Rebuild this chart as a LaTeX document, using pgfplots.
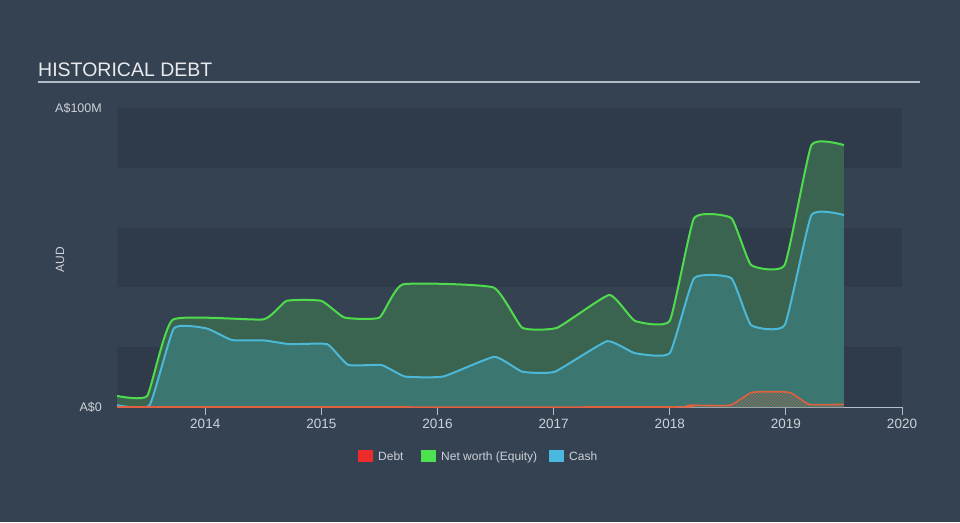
\documentclass[border=0pt]{standalone}
\usepackage{pgfplots}
\pgfplotsset{compat=1.18}
\usepackage{fontspec}
\setmainfont{Liberation Sans}
\usetikzlibrary{patterns}
\definecolor{bg}{HTML}{354252}
\definecolor{band}{HTML}{2F3B4B}
\definecolor{eqfill}{HTML}{3B6450}
\definecolor{cashfill}{HTML}{3B7670}
\definecolor{eqline}{HTML}{4FDC4C}
\definecolor{cashline}{HTML}{4BB8D8}
\definecolor{debtline}{HTML}{E0603F}
\definecolor{axisgray}{HTML}{B4BCC6}
\definecolor{ticktext}{HTML}{CDD2D9}
\definecolor{titletext}{HTML}{E8EBEE}
\definecolor{legred}{HTML}{EC2B2B}
\definecolor{leggreen}{HTML}{4FE04F}
\definecolor{legblue}{HTML}{4AB8E0}
\pgfplotstableread{
x y
2013.24 3.7
2013.50 3.7
2013.72 29.2
2014.50 29.3
2014.70 35.5
2015.00 35.5
2015.20 29.9
2015.50 29.9
2015.70 41.0
2016.48 40.0
2016.73 26.5
2017.03 26.5
2017.48 37.5
2017.70 28.8
2018.00 28.8
2018.21 63.2
2018.53 63.2
2018.70 47.5
2018.99 47.5
2019.22 87.6
2019.50 87.6
}\equity
\pgfplotstableread{
x y
2013.24 0.6
2013.52 0.6
2013.73 26.3
2014.01 26.3
2014.23 22.4
2014.50 22.3
2014.73 21.0
2015.05 21.0
2015.23 14.1
2015.52 14.0
2015.72 10.2
2016.05 10.2
2016.49 16.8
2016.73 11.8
2017.01 11.8
2017.46 22.0
2017.70 18.0
2018.00 18.0
2018.21 43.1
2018.53 43.1
2018.70 27.4
2018.99 27.4
2019.22 64.2
2019.50 64.2
}\cash
\pgfplotstableread{
x y
2013.24 0
2018.00 0
2018.17 0.6
2018.52 0.6
2018.71 4.9
2019.03 4.9
2019.20 0.9
2019.50 0.9
}\debt
\begin{document}
\begin{tikzpicture}[x=1pt,y=1pt]
\fill[bg] (0,0) rectangle (960,522);
% title
\node[anchor=base west, inner sep=0, text=titletext, font=\fontsize{19.5}{22}\selectfont] at (38,445) {HISTORICAL DEBT};
\draw[axisgray, line width=1.5pt] (38,440) -- (920,440);
% y labels
\node[anchor=east, inner sep=0, text=ticktext, font=\fontsize{12.5}{14}\selectfont] at (102,414) {A\$100M};
\node[anchor=east, inner sep=0, text=ticktext, font=\fontsize{12.5}{14}\selectfont] at (102,115) {A\$0};
\node[rotate=90, inner sep=0, text=ticktext, font=\fontsize{12}{14}\selectfont] at (60,262) {AUD};
\begin{axis}[
  at={(117pt,115pt)}, anchor=south west,
  scale only axis, width=785pt, height=299pt,
  xmin=2013.24, xmax=2020, ymin=0, ymax=100,
  axis y line=none, axis x line*=bottom,
  x axis line style={axisgray, line width=1.2pt, -},
  xtick={2014,2015,2016,2017,2018,2019,2020},
  xticklabels={2014,2015,2016,2017,2018,2019,2020},
  tick align=outside, major tick length=8pt,
  xtick style={axisgray, line width=1pt},
  xticklabel style={text=ticktext, font=\fontsize{13.5}{15}\selectfont, yshift=-1pt},
  clip=true,
]
\fill[band] (axis cs:2013.24,80) rectangle (axis cs:2020,100);
\fill[band] (axis cs:2013.24,40) rectangle (axis cs:2020,60);
\fill[band] (axis cs:2013.24,0) rectangle (axis cs:2020,20);

\addplot[draw=none, fill=eqfill, smooth, tension=0.25] table {\equity} \closedcycle;
\addplot[draw=none, fill=cashfill, smooth, tension=0.25] table {\cash} \closedcycle;
\addplot[draw=none, pattern=north east lines, pattern color=debtline!70!cashfill, smooth, tension=0.25] table {\debt} \closedcycle;

\addplot[eqline, line width=2pt, smooth, tension=0.25] table {\equity};
\addplot[cashline, line width=2pt, smooth, tension=0.25] table {\cash};
\addplot[debtline, line width=1.6pt, smooth, tension=0.25] table {\debt};
\end{axis}
% legend
\fill[legred] (358,60) rectangle (373,72);
\node[anchor=base west, inner sep=0, text=ticktext, font=\fontsize{12}{14}\selectfont] at (378,62) {Debt};
\fill[leggreen] (421,60) rectangle (436,72);
\node[anchor=base west, inner sep=0, text=ticktext, font=\fontsize{12}{14}\selectfont] at (441,62) {Net worth (Equity)};
\fill[legblue] (549,60) rectangle (564,72);
\node[anchor=base west, inner sep=0, text=ticktext, font=\fontsize{12}{14}\selectfont] at (569,62) {Cash};
\end{tikzpicture}
\end{document}
